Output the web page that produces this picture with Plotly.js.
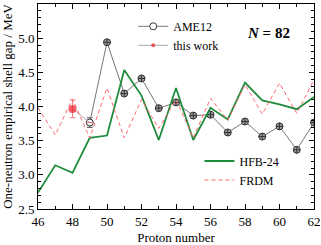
<!DOCTYPE html>
<html><head><meta charset="utf-8">
<script src="https://cdn.plot.ly/plotly-3.0.1.min.js"></script>
<style>html,body{margin:0;padding:0;background:#fff}#c{width:321px;height:245px}</style>
</head><body><div id="c"></div>
<script>
const ameZ = [49,50,51,52,53,54,55,56,57,58,59,60,61,62];
const ameGap = [3.765,4.94,4.19,4.41,3.975,4.06,3.867,3.88,3.62,3.78,3.56,3.71,3.366,3.765];
const ameErr = [0.07,0,0,0,0,0,0,0,0,0,0,0,0,0];
const thisZ = [48,49];
const thisGap = [3.965,3.765];
const thisErr = [0.13,0];
const hfbZ = [46,47,48,49,50,51,52,53,54,55,56,57,58,59,60,61,62];
const hfbGap = [2.74,3.14,3.03,3.54,3.575,4.535,4.16,3.51,4.27,3.51,3.98,3.81,4.35,4.09,4.03,3.96,4.14];
const frdmZ = [46,47,48,49,50,51,52,53,54,55,56,57,58,59,60,61,62];
const frdmGap = [3.98,3.585,4.107,3.54,4.27,3.54,4.10,3.68,4.10,3.54,4.12,3.80,4.32,3.89,4.34,3.90,4.39];

const serif = "Liberation Serif, Times New Roman, serif";
const ameSym = ameZ.map((z,i)=> i===0 ? 'circle' : 'circle-cross');
const ameCol = ameZ.map((z,i)=> i===0 ? '#ffffff' : '#9a9a9a');

const traces = [
 {x: ameZ, y: ameGap, name: 'AME12', mode: 'lines+markers', legend: 'legend',
  line: {color: '#777', width: 1},
  marker: {symbol: ameSym, color: ameCol, size: 7, line: {color: '#333', width: 1}},
  error_y: {type: 'data', array: ameErr, color: '#555', thickness: 1, width: 3}},
 {x: thisZ, y: thisGap, name: 'this work', mode: 'lines+markers', legend: 'legend',
  line: {color: '#aaa', width: 1},
  marker: {color: '#ee1c25', size: [8,0], line: {width: 0}},
  error_y: {type: 'data', array: thisErr, color: '#f08080', thickness: 1, width: 3}},
 {x: hfbZ, y: hfbGap, name: 'HFB-24', mode: 'lines', legend: 'legend2',
  line: {color: '#1e8c3a', width: 1.8}},
 {x: frdmZ, y: frdmGap, name: 'FRDM', mode: 'lines', legend: 'legend2',
  line: {color: '#ff6670', width: 1, dash: '4px,3px'}}
];

const axisCommon = {showline: true, linecolor: '#000', linewidth: 1, mirror: 'allticks',
  ticks: 'inside', ticklen: 5, tickcolor: '#000', showgrid: false, zeroline: false,
  tickfont: {family: serif, size: 13, color: '#000'}};

const layout = {
  width: 321, height: 245,
  margin: {l: 38, r: 7, t: 4, b: 36},
  paper_bgcolor: '#fff', plot_bgcolor: '#fff',
  font: {family: serif, color: '#000', size: 13},
  xaxis: Object.assign({}, axisCommon, {range: [46,62], dtick: 2, tick0: 46,
    minor: {dtick: 1, ticks: 'inside', ticklen: 3, tickcolor: '#000'},
    title: {text: 'Proton number', font: {family: serif, size: 13}, standoff: 5}}),
  yaxis: Object.assign({}, axisCommon, {range: [2.5,5.5], dtick: 0.5, tick0: 2.5,
    tickformat: '.1f',
    minor: {dtick: 0.1, ticks: 'inside', ticklen: 3, tickcolor: '#000'},
    title: {text: 'One-neutron empirical shell gap / MeV', font: {family: serif, size: 13}, standoff: 4}}),
  legend: {x: 0.345, y: 0.962, xanchor: 'left', yanchor: 'top', bgcolor: 'rgba(0,0,0,0)',
    font: {family: serif, size: 12}, tracegroupgap: 0},
  legend2: {x: 0.585, y: 0.305, xanchor: 'left', yanchor: 'top', bgcolor: 'rgba(0,0,0,0)',
    font: {family: serif, size: 12}},
  showlegend: true,
  annotations: [{xref: 'paper', yref: 'paper', x: 0.835, y: 0.86, xanchor: 'center', yanchor: 'middle',
    showarrow: false,
    text: '<b><i>N</i> = 82</b>', font: {family: serif, size: 15, color: '#000'}}]
};
Plotly.newPlot('c', traces, layout, {staticPlot: true, displayModeBar: false});
</script></body></html>
